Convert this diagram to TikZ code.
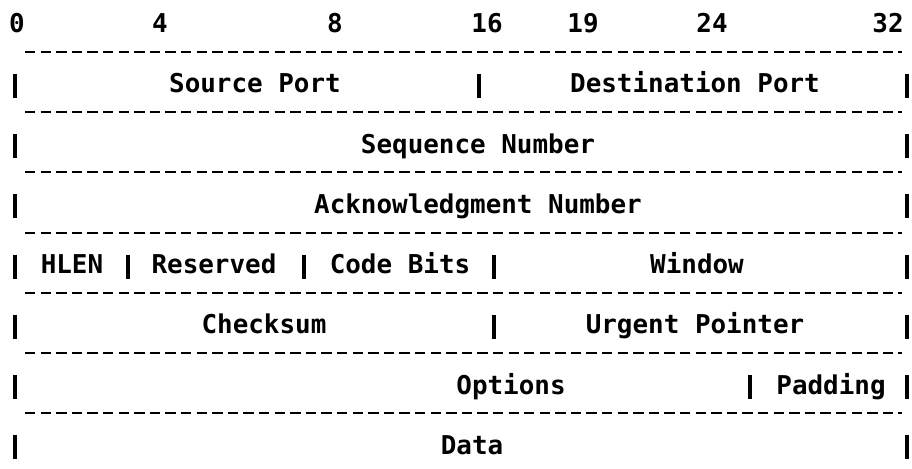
\documentclass[tikz,border=0pt]{standalone}
\usepackage{fontspec}
\setmonofont{DejaVu Sans Mono}

\tikzset{
  field/.style={anchor=base, inner sep=0pt, font=\ttfamily\bfseries\fontsize{14.75}{16}\selectfont},
  rowline/.style={line width=1.1pt, dash pattern=on 0.208cm off 0.104cm},
  bar/.style={line width=2.3pt}
}

\begin{document}
\begin{tikzpicture}[x=0.02cm, y=-0.02cm]
    \useasboundingbox (0,0) rectangle (912,469);

    % bit positions
    \node[field] (b0) at (17,33) {0};
    \node[field] (b4) at (160,33) {4};
    \node[field] (b8) at (335,33) {8};
    \node[field] (b16) at (487,33) {16};
    \node[field] (b19) at (583,33) {19};
    \node[field] (b24) at (712,33) {24};
    \node[field] (b32) at (888,33) {32};

    % rows: dashed rule above, bars at both ends
    \foreach \r in {0,...,6}{
        \draw[rowline] (25,{52+60.2*\r}) -- (902,{52+60.2*\r});
        \draw[bar] (15,{74+60.2*\r}) -- ++(0,24);
        \draw[bar] (907,{74+60.2*\r}) -- ++(0,24);
    }

    % inner bars
    \draw[bar] (479,74) -- ++(0,24);
    \draw[bar] (128,{74+60.2*3}) -- ++(0,24);
    \draw[bar] (304,{74+60.2*3}) -- ++(0,24);
    \draw[bar] (494,{74+60.2*3}) -- ++(0,24);
    \draw[bar] (494,{74+60.2*4}) -- ++(0,24);
    \draw[bar] (750,{74+60.2*5}) -- ++(0,24);

    % fields
    \node[field] (src) at (255,93) {Source Port};
    \node[field] (dst) at (695,93) {Destination Port};
    \node[field] (seq) at (478,{93+60.2}) {Sequence Number};
    \node[field] (ack) at (478,{93+60.2*2}) {Acknowledgment Number};
    \node[field] (hlen) at (72,{93+60.2*3}) {HLEN};
    \node[field] (rsv) at (214,{93+60.2*3}) {Reserved};
    \node[field] (code) at (400,{93+60.2*3}) {Code Bits};
    \node[field] (win) at (697,{93+60.2*3}) {Window};
    \node[field] (csum) at (264,{93+60.2*4}) {Checksum};
    \node[field] (urg) at (695,{93+60.2*4}) {Urgent Pointer};
    \node[field] (opt) at (511,{93+60.2*5}) {Options};
    \node[field] (pad) at (831,{93+60.2*5}) {Padding};
    \node[field] (data) at (472,{93+60.2*6}) {Data};

\end{tikzpicture}
\end{document}
